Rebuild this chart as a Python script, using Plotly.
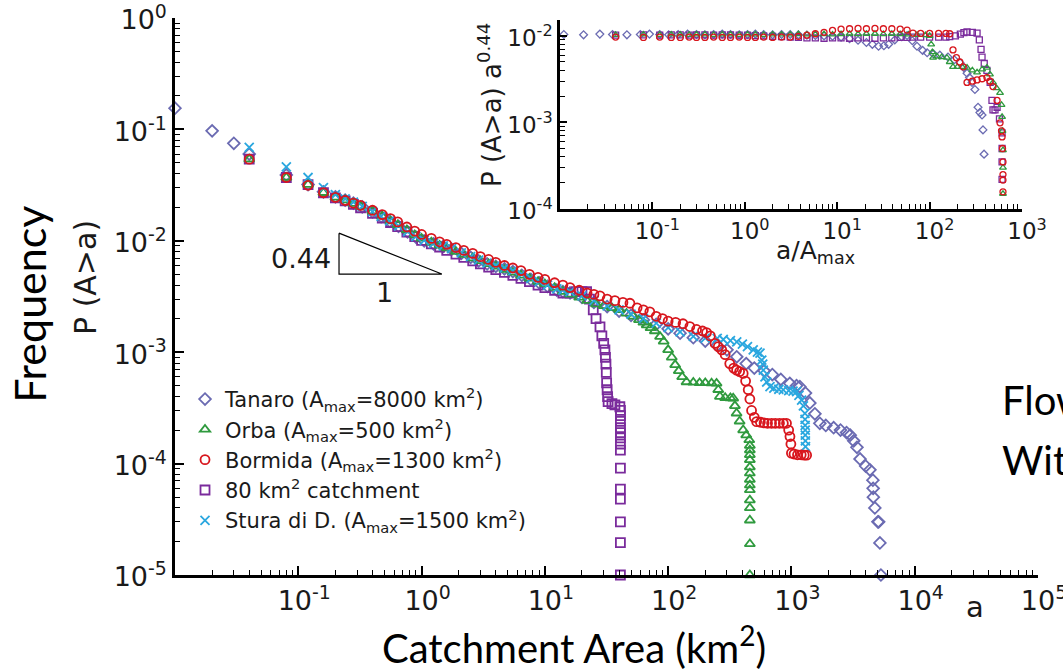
import plotly.graph_objects as go

# ---------------- main panel: exceedance probability P(A>a) vs area a (km2) ----------------
tanaro_a = [0.01, 0.02, 0.03, 0.04, 0.08, 0.12, 0.16, 0.20, 0.24, 0.28, 0.33, 0.40, 0.47, 0.55,
            0.65, 0.77, 0.90, 1.05, 1.25, 1.5, 1.75, 2.1, 2.5, 2.9, 3.4, 4.0, 4.7, 5.5, 6.5, 7.7,
            9.0, 10.5, 12.5, 14, 16, 20, 25, 32, 40, 50, 63, 80, 100, 125, 160, 200, 250, 300,
            360, 430, 500, 600, 700, 820, 970, 1100, 1170, 1300, 1410, 1550, 1700, 1900, 2200,
            2500, 2800, 3000, 3200, 3400, 3600, 4000, 4330, 4580, 4600, 4620, 4750, 5030, 5100,
            5220, 5320]
tanaro_p = [0.155, 0.097, 0.075, 0.060, 0.039, 0.032, 0.0275, 0.0248, 0.0232, 0.0218, 0.0202,
            0.0182, 0.0165, 0.0150, 0.0135, 0.0120, 0.0108, 0.0100, 0.0094, 0.0089, 0.0084,
            0.0077, 0.0071, 0.0066, 0.0062, 0.0059, 0.0056, 0.0053, 0.0049, 0.0045, 0.0042,
            0.0039, 0.0036, 0.0035, 0.0034, 0.0031, 0.0028, 0.00257, 0.00234, 0.00214, 0.00195,
            0.00178, 0.00162, 0.00148, 0.00135, 0.00126, 0.00115, 0.00105, 0.00091, 0.00079,
            0.00072, 0.00068, 0.00063, 0.00057, 0.000525, 0.0005, 0.00049, 0.00043, 0.00035,
            0.00028, 0.00023, 0.00022, 0.00021, 0.0002, 0.00019, 0.00018, 0.00016, 0.00014,
            0.00011, 0.000095, 0.000088, 0.000071, 0.00006, 0.00005, 0.00004, 0.00003, 0.00003,
            0.0000194, 0.00001]

orba_a = [0.04, 0.08, 0.12, 0.16, 0.20, 0.24, 0.28, 0.32, 0.40, 0.48, 0.56, 0.64, 0.76, 0.88,
          1.0, 1.2, 1.4, 1.6, 1.9, 2.2, 2.6, 3.0, 3.5, 4.0, 4.7, 5.5, 6.4, 7.5, 8.8, 10, 12, 14,
          16, 19, 22, 26, 30, 35, 40, 46, 52, 58, 63, 67, 72, 78, 86, 92, 100, 107, 114, 122,
          130, 141, 160, 180, 200, 225, 247, 255, 263, 290, 320, 337, 348, 359, 380, 406, 430,
          455, 460, 460, 460, 460, 460, 460, 460, 460, 460, 460, 460, 460, 460, 460]
orba_p = [0.054, 0.037, 0.032, 0.027, 0.0245, 0.0232, 0.0216, 0.0204, 0.0184, 0.0166, 0.0150,
          0.0139, 0.0125, 0.0113, 0.0105, 0.0097, 0.0091, 0.0086, 0.0080, 0.0075, 0.0070,
          0.0066, 0.0062, 0.0059, 0.0055, 0.0052, 0.0049, 0.0046, 0.0043, 0.0041, 0.0038,
          0.0035, 0.0033, 0.0031, 0.0029, 0.0027, 0.0026, 0.0025, 0.0024, 0.00223, 0.0021,
          0.00195, 0.00185, 0.00175, 0.00165, 0.00155, 0.00138, 0.00125, 0.00105, 0.0009,
          0.00077, 0.00068, 0.0006, 0.00054, 0.000535, 0.00053, 0.00053, 0.000527, 0.000525,
          0.00046, 0.0004, 0.00039, 0.000388, 0.000386, 0.00033, 0.000283, 0.00024, 0.0002,
          0.00018, 0.000163, 0.000145, 0.000132, 0.00012, 0.000108, 0.000093, 0.000082,
          0.000072, 0.000064, 0.000058, 0.000047, 0.00004, 0.000031, 0.000019, 0.00001]

bormida_a = [0.04, 0.08, 0.12, 0.16, 0.20, 0.24, 0.28, 0.32, 0.40, 0.48, 0.56, 0.64, 0.76, 0.88,
             1.0, 1.2, 1.4, 1.6, 1.9, 2.2, 2.6, 3.0, 3.5, 4.0, 4.7, 5.5, 6.4, 7.5, 8.8, 10, 12,
             14, 16, 19, 22, 25, 28, 32, 37, 43, 49, 56, 63, 71, 80, 90, 100, 115, 132, 150,
             170, 190, 205, 220, 240, 255, 272, 290, 316, 340, 359, 380, 406, 425, 446, 460,
             475, 500, 522, 560, 600, 640, 690, 740, 800, 860, 912, 950, 973, 990, 1000, 1050,
             1120, 1200, 1270, 1328]
bormida_p = [0.054, 0.037, 0.0315, 0.027, 0.0245, 0.023, 0.0218, 0.0208, 0.0188, 0.0172,
             0.0158, 0.0148, 0.0133, 0.0122, 0.0114, 0.0105, 0.0098, 0.0093, 0.0087, 0.0082,
             0.0077, 0.0072, 0.0068, 0.0064, 0.0060, 0.0057, 0.0054, 0.0050, 0.0047, 0.0045,
             0.0042, 0.0040, 0.0038, 0.0036, 0.0034, 0.0033, 0.0032, 0.0030, 0.0029, 0.0028,
             0.00275, 0.0025, 0.0024, 0.0023, 0.0021, 0.0020, 0.0019, 0.00185, 0.0018, 0.0017,
             0.0016, 0.00155, 0.0015, 0.0014, 0.0012, 0.00112, 0.00105, 0.00095, 0.00079,
             0.00072, 0.00069, 0.00067, 0.000645, 0.00055, 0.00046, 0.00038, 0.0003, 0.00026,
             0.000238, 0.000235, 0.000232, 0.00023, 0.00023, 0.00023, 0.00023, 0.00023, 0.00023,
             0.0002, 0.000175, 0.00015, 0.000124, 0.000122, 0.00012, 0.00012, 0.000119, 0.000119]

basin80_a = [0.04, 0.08, 0.12, 0.16, 0.20, 0.24, 0.28, 0.32, 0.40, 0.48, 0.56, 0.64, 0.76, 0.88,
             1.0, 1.2, 1.4, 1.6, 1.9, 2.2, 2.6, 3.0, 3.5, 4.0, 4.7, 5.5, 6.4, 7.5, 8.8, 10, 12,
             14, 16, 18, 20, 21.8, 23, 24.7, 26, 28, 29, 30, 30.7, 31, 31.3, 31.5, 31.7, 32, 32.3,
             32.6, 35, 37, 40.6, 41, 41, 41, 41, 41, 41, 41, 41, 41, 41, 41, 41, 41, 41]
basin80_p = [0.054, 0.037, 0.032, 0.027, 0.0243, 0.0228, 0.0212, 0.0198, 0.0176, 0.0160,
             0.0146, 0.0134, 0.0120, 0.0109, 0.0101, 0.0094, 0.0088, 0.0082, 0.0076, 0.0071,
             0.0066, 0.0062, 0.0058, 0.0055, 0.0052, 0.0049, 0.0046, 0.0043, 0.0040, 0.0038,
             0.0036, 0.0034, 0.0034, 0.0035, 0.0035, 0.0035, 0.0030, 0.0024, 0.0020, 0.00169,
             0.0014, 0.0012, 0.00105, 0.0009, 0.00078, 0.00066, 0.00053, 0.00046, 0.0004,
             0.00036, 0.000345, 0.000336, 0.000324, 0.0003, 0.00027, 0.00024, 0.00021, 0.00019,
             0.00017, 0.00015, 0.000132, 0.000091, 0.000059, 0.000048, 0.00003, 0.0000195,
             0.00001]

stura_a = [0.04, 0.08, 0.12, 0.16, 0.20, 0.24, 0.28, 0.33, 0.40, 0.47, 0.55, 0.65, 0.77, 0.90,
           1.05, 1.25, 1.5, 1.75, 2.1, 2.5, 2.9, 3.4, 4.0, 4.7, 5.5, 6.5, 7.7, 9.0, 10.5, 12.5,
           14, 16, 20, 25, 32, 40, 50, 63, 80, 100, 125, 160, 200, 250, 280, 320, 360, 400, 440,
           490, 530, 556, 575, 585, 591, 610, 630, 670, 720, 790, 859, 950, 1030, 1102, 1150,
           1210, 1250, 1286, 1290, 1292, 1294, 1296, 1298, 1300]
stura_p = [0.069, 0.046, 0.037, 0.030, 0.026, 0.0238, 0.0222, 0.0204, 0.0183, 0.0166, 0.0151,
           0.0136, 0.0121, 0.0109, 0.0101, 0.0095, 0.0090, 0.0085, 0.0078, 0.0072, 0.0067,
           0.0063, 0.0060, 0.0057, 0.0054, 0.0050, 0.0046, 0.0043, 0.0040, 0.0037, 0.0036,
           0.0035, 0.0032, 0.0029, 0.0026, 0.0024, 0.0022, 0.0020, 0.00182, 0.00166, 0.00152,
           0.00139, 0.00134, 0.00133, 0.0013, 0.00127, 0.00124, 0.00118, 0.00112, 0.00105,
           0.001, 0.00098, 0.00085, 0.00078, 0.00069, 0.0006, 0.00054, 0.00049, 0.000475,
           0.000465, 0.000458, 0.000452, 0.000447, 0.000442, 0.00041, 0.000372, 0.00033,
           0.000283, 0.00025, 0.00022, 0.0002, 0.00018, 0.00016, 0.000142]

# ---------------- inset: P(A>a) a^0.44 vs a/Amax ----------------
in_tanaro_x = [0.011, 0.018, 0.027, 0.037, 0.053, 0.074, 0.093, 0.12, 0.15, 0.19, 0.24, 0.3,
               0.37, 0.46, 0.57, 0.7, 0.87, 1.07, 1.3, 1.6, 2.0, 2.5, 3.1, 3.8, 4.7, 5.8, 7.2,
               8.9, 11, 13.6, 16.8, 20.7, 24, 28, 32, 36, 42, 50, 57, 65, 73, 84, 94, 110, 129,
               158, 185, 213, 235, 254, 270, 288, 309, 334, 350, 369, 378, 388]
in_tanaro_y = [0.0104, 0.0103, 0.0105, 0.0104, 0.0103, 0.0104, 0.0105, 0.0104, 0.0103, 0.0104,
               0.0105, 0.0104, 0.0103, 0.0104, 0.0105, 0.0104, 0.0103, 0.0104, 0.0105, 0.0104,
               0.0103, 0.0104, 0.0104, 0.0103, 0.0102, 0.0101, 0.0100, 0.0099, 0.0097, 0.0093,
               0.0089, 0.0084, 0.0080, 0.0076, 0.0077, 0.0080, 0.0090, 0.0098, 0.0101, 0.0088,
               0.0076, 0.0068, 0.0064, 0.0062, 0.0060, 0.0057, 0.0053, 0.0049, 0.0043, 0.0037,
               0.0033, 0.0029, 0.0024, 0.0015, 0.0013, 0.00122, 0.00082, 0.00043]

in_orba_x = [0.04, 0.08, 0.12, 0.16, 0.2, 0.25, 0.3, 0.37, 0.46, 0.57, 0.7, 0.87, 1.07, 1.3,
             1.6, 2.0, 2.5, 3.1, 3.8, 4.7, 5.8, 7.2, 8.9, 11, 13.6, 16.8, 20.7, 25.6, 31.6, 39,
             48, 59, 73, 90, 100, 104, 107, 109, 120, 135, 154, 165, 179, 200, 225, 254, 290,
             326, 370, 417, 450, 485, 530, 578, 600, 608, 615, 622, 622, 622]
in_orba_y = [0.0103, 0.0104, 0.0103, 0.0104, 0.0104, 0.0103, 0.0104, 0.0104, 0.0103, 0.0104,
             0.0104, 0.0103, 0.0104, 0.0104, 0.0103, 0.0104, 0.0104, 0.0104, 0.0105, 0.0104,
             0.0105, 0.0105, 0.0104, 0.0105, 0.0106, 0.0105, 0.0106, 0.0106, 0.0105, 0.0106,
             0.0105, 0.0104, 0.0103, 0.0102, 0.0100, 0.0080, 0.0065, 0.0056, 0.0058, 0.0057,
             0.0056, 0.0050, 0.0044, 0.0044, 0.0044, 0.0043, 0.0040, 0.0038, 0.0041, 0.0043,
             0.0036, 0.0029, 0.0025, 0.0022, 0.0016, 0.00116, 0.0008, 0.00048, 0.0003, 0.00015]

in_bormida_x = [0.04, 0.08, 0.12, 0.16, 0.2, 0.25, 0.3, 0.37, 0.46, 0.57, 0.7, 0.87, 1.07, 1.3,
                1.6, 2.0, 2.5, 3.1, 3.8, 4.7, 5.8, 7.2, 8.9, 11, 13.6, 16.8, 20.7, 25.6, 31.6,
                39, 48, 57, 66, 80, 100, 125, 150, 165, 179, 195, 212, 231, 254, 290, 326, 370,
                417, 450, 485, 537, 578, 600, 608, 615, 622, 622, 622, 622]
in_bormida_y = [0.0097, 0.0096, 0.0097, 0.0096, 0.0096, 0.0097, 0.0096, 0.0096, 0.0097, 0.0096,
                0.0096, 0.0097, 0.0096, 0.0096, 0.0097, 0.0096, 0.0097, 0.0097, 0.0099, 0.0102,
                0.0106, 0.0110, 0.0116, 0.0120, 0.0121, 0.0122, 0.0121, 0.0122, 0.0121, 0.0121,
                0.0120, 0.0117, 0.0108, 0.0107, 0.0107, 0.0107, 0.0107, 0.0106, 0.0069, 0.0056,
                0.0050, 0.0044, 0.0029, 0.0030, 0.0031, 0.0032, 0.0033, 0.0030, 0.0026, 0.0018,
                0.00099, 0.0008, 0.00068, 0.0005, 0.00035, 0.00025, 0.000216, 0.000158]

in_basin80_x = [0.04, 0.08, 0.12, 0.16, 0.2, 0.25, 0.3, 0.37, 0.46, 0.57, 0.7, 0.87, 1.07, 1.3,
                1.6, 2.0, 2.5, 3.1, 3.8, 4.7, 5.8, 7.2, 8.9, 11, 13.6, 16.8, 20.7, 25.6, 31.6,
                39, 48, 57, 66, 80, 100, 125, 150, 165, 190, 215, 235, 254, 290, 326, 345, 360,
                369, 390, 417, 452, 473, 485, 510, 537, 570, 608, 608, 608, 608, 608]
in_basin80_y = [0.0102, 0.0103, 0.0102, 0.0103, 0.0103, 0.0102, 0.0103, 0.0103, 0.0102, 0.0103,
                0.0103, 0.0102, 0.0102, 0.0101, 0.0100, 0.0099, 0.0098, 0.0097, 0.0096, 0.0095,
                0.0095, 0.0094, 0.0095, 0.0095, 0.0094, 0.0095, 0.0095, 0.0094, 0.0095, 0.0095,
                0.0096, 0.0096, 0.0097, 0.0097, 0.0097, 0.0097, 0.0097, 0.0098, 0.0100, 0.0105,
                0.0109, 0.0111, 0.0110, 0.0108, 0.0090, 0.0070, 0.0057, 0.0048, 0.0040, 0.0029,
                0.0018, 0.0014, 0.0014, 0.0015, 0.0011, 0.00076, 0.0005, 0.00035, 0.00022,
                0.000098]

# ---------------- styling ----------------
TICK_FONT = "DejaVu Sans"
SLIDE_FONT = "Lato"
INK = "#1a1a1a"
C_TANARO = "#6b6bb2"
C_ORBA = "#2f9a3e"
C_BORMIDA = "#d8161d"
C_BASIN80 = "#7a2b9c"
C_STURA = "#2aa7df"

series = [
    # legend label, a, p, inset x, inset y, symbol, colour, legend rank
    ("Tanaro (A<sub>max</sub>=8000 km<sup>2</sup>)", tanaro_a, tanaro_p, in_tanaro_x, in_tanaro_y,
     "diamond-open", C_TANARO, 1),
    ("80 km<sup>2</sup> catchment", basin80_a, basin80_p, in_basin80_x, in_basin80_y,
     "square-open", C_BASIN80, 4),
    ("Orba (A<sub>max</sub>=500 km<sup>2</sup>)", orba_a, orba_p, in_orba_x, in_orba_y,
     "triangle-up-open", C_ORBA, 2),
    ("Stura di D. (A<sub>max</sub>=1500 km<sup>2</sup>)", stura_a, stura_p, None, None,
     "x-thin-open", C_STURA, 5),
    ("Bormida (A<sub>max</sub>=1300 km<sup>2</sup>)", bormida_a, bormida_p, in_bormida_x,
     in_bormida_y, "circle-open", C_BORMIDA, 3),
]

fig = go.Figure()

for name, xa, yp, ix, iy, sym, col, rank in series:
    fig.add_trace(go.Scatter(
        x=xa, y=yp, mode="markers", name=name, legendrank=rank,
        marker=dict(symbol=sym, size=9, color=col, line=dict(color=col, width=1.8)),
        cliponaxis=False, xaxis="x", yaxis="y"))

for name, xa, yp, ix, iy, sym, col, rank in series:
    if ix is None:
        continue
    fig.add_trace(go.Scatter(
        x=ix, y=iy, mode="markers", showlegend=False,
        marker=dict(symbol=sym, size=6, color=col, line=dict(color=col, width=1.3)),
        cliponaxis=False, xaxis="x2", yaxis="y2"))

# slope triangle with exponent 0.44
SLOPE = 0.44
tri_x0, tri_x1, tri_ylow = 0.214, 1.46, 0.00503
tri_ytop = tri_ylow * (tri_x1 / tri_x0) ** SLOPE
fig.add_trace(go.Scatter(
    x=[tri_x0, tri_x0, tri_x1, tri_x0], y=[tri_ytop, tri_ylow, tri_ylow, tri_ytop],
    mode="lines", line=dict(color="black", width=1.2), showlegend=False, hoverinfo="skip"))

main_x_ticks = [0.1, 1, 10, 100, 1000, 10000, 100000]
main_x_text = ["10<sup>-1</sup>", "10<sup>0</sup>", "10<sup>1</sup>", "10<sup>2</sup>",
               "10<sup>3</sup>", "10<sup>4</sup>", "10<sup>5</sup>"]
main_y_ticks = [1, 0.1, 0.01, 0.001, 0.0001, 0.00001]
main_y_text = ["10<sup>0</sup>", "10<sup>-1</sup>", "10<sup>-2</sup>", "10<sup>-3</sup>",
               "10<sup>-4</sup>", "10<sup>-5</sup>"]
inset_x_ticks = [0.1, 1, 10, 100, 1000]
inset_x_text = ["10<sup>-1</sup>", "10<sup>0</sup>", "10<sup>1</sup>", "10<sup>2</sup>",
                "10<sup>3</sup>"]
inset_y_ticks = [0.01, 0.001, 0.0001]
inset_y_text = ["10<sup>-2</sup>", "10<sup>-3</sup>", "10<sup>-4</sup>"]


def log_axis(rng, dom, vals, text, fsize, anchor, tlen=9, shift=0):
    return dict(type="log", range=rng, domain=dom, anchor=anchor, automargin=False,
                tickmode="array", tickvals=vals, ticktext=text,
                tickfont=dict(family=TICK_FONT, size=fsize, color=INK),
                ticklabelshift=shift, ticklabeloverflow="allow",
                showline=True, linecolor="black", linewidth=2.5, mirror=False,
                ticks="inside", ticklen=tlen, tickwidth=1.5, tickcolor="black",
                minor=dict(ticks="inside", ticklen=5, tickwidth=1, tickcolor="black",
                           dtick="D1", showgrid=False),
                showgrid=False, zeroline=False)


fig.update_layout(
    width=1063, height=672,
    margin=dict(l=175, r=25, t=18, b=97, autoexpand=False),
    paper_bgcolor="white", plot_bgcolor="rgba(0,0,0,0)",
    xaxis=log_axis([-2, 5], [0, 1], main_x_ticks, main_x_text, 27, "y", shift=6),
    yaxis=log_axis([-5, 0], [0, 1], main_y_ticks, main_y_text, 27, "x", shift=2),
    xaxis2=log_axis([-2, 3], [0.4461, 0.9815], inset_x_ticks, inset_x_text, 23, "y2", 7, 5),
    yaxis2=log_axis([-4, -1.816], [0.6571, 0.9964], inset_y_ticks, inset_y_text, 23, "x2", 7, 2),
    showlegend=True,
    legend=dict(x=0.0116, y=0.352, xanchor="left", yanchor="top",
                bgcolor="rgba(0,0,0,0)", borderwidth=0,
                font=dict(family=TICK_FONT, size=21, color=INK),
                tracegroupgap=0, itemsizing="trace"),
)

annotations = [
    dict(text="P (A>a)", x=-0.1043, y=0.535, textangle=-90,
         font=dict(family=TICK_FONT, size=30, color=INK)),
    dict(text="Frequency", x=-0.168, y=0.485, textangle=-90,
         font=dict(family=SLIDE_FONT, size=43, color="black")),
    dict(text="Catchment Area (km<sup>2</sup>)", x=0.4623, y=-0.1257,
         font=dict(family=SLIDE_FONT, size=40, color="black")),
    dict(text="a", x=0.927, y=-0.0575, font=dict(family=TICK_FONT, size=29, color=INK)),
    dict(text="Flow", x=0.9555, y=0.3142, xanchor="left",
         font=dict(family=SLIDE_FONT, size=40, color="black")),
    dict(text="With", x=0.9555, y=0.2065, xanchor="left",
         font=dict(family=SLIDE_FONT, size=40, color="black")),
    dict(text="0.44", x=0.146, y=0.569, font=dict(family=TICK_FONT, size=27, color=INK)),
    dict(text="1", x=0.2433, y=0.508, font=dict(family=TICK_FONT, size=27, color=INK)),
    dict(text="P (A>a) a<sup>0.44</sup>", x=0.365, y=0.8438, textangle=-90,
         font=dict(family=TICK_FONT, size=26, color=INK)),
    dict(text="a/A<sub>max</sub>", x=0.7416, y=0.580,
         font=dict(family=TICK_FONT, size=25, color=INK)),
]
for ann in annotations:
    ann.setdefault("xanchor", "center")
    ann.update(xref="paper", yref="paper", showarrow=False, yanchor="middle")
fig.update_layout(annotations=annotations)

fig.write_html("out.html")
